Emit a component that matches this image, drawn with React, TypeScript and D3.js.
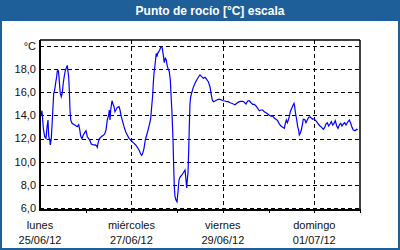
import React from "react";
import * as d3 from "d3";

// hours since Mon 25/06/12 00:00
const hours = [0.3,1.05,1.73,2.47,3.15,3.68,4.2,4.57,5.09,5.41,5.93,6.46,6.83,7.19,7.72,8.24,8.77,9.08,9.61,9.98,10.34,10.66,11.18,11.71,12.23,12.76,13.28,13.81,14.33,14.7,15.07,15.38,15.75,16.12,16.8,18.22,19.58,20.32,20.84,21.37,22.05,22.73,23.47,24.15,24.83,25.57,26.25,26.93,27.98,29.03,29.77,30.08,30.45,31.13,32.18,33.23,33.97,34.65,
35.33,36.07,36.38,36.75,37.12,37.8,38.33,38.85,39.38,40.06,40.58,41.48,42.0,42.68,43.42,44.1,44.99,45.83,46.73,47.62,48.46,49.35,50.24,51.08,51.98,52.87,53.39,53.92,54.6,55.28,56.02,56.7,57.38,58.12,58.64,59.17,59.48,59.85,60.38,60.74,61.06,61.43,61.79,62.32,62.84,63.37,63.89,64.21,64.73,65.26,65.78,66.31,66.68,67.2,67.88,68.41,68.93,
69.3,69.83,70.19,70.51,70.88,71.4,71.93,72.45,72.98,73.5,74.39,75.23,76.13,76.49,77.02,77.33,77.7,78.07,78.38,78.75,79.12,79.8,80.48,81.38,82.27,83.11,84.0,84.89,85.73,86.63,87.52,88.36,89.25,89.78,90.46,90.98,91.88,92.77,93.61,94.5,95.39,96.23,97.13,98.02,98.86,99.75,100.64,101.48,102.38,103.27,
104.63,105.53,106.42,107.26,108.15,109.04,109.88,110.78,111.67,112.51,113.4,114.29,115.13,116.03,116.92,117.76,118.65,119.54,120.38,121.28,122.17,123.01,123.9,124.79,125.63,126.53,127.42,128.26,128.78,129.31,129.83,130.36,130.88,131.41,131.93,132.67,133.35,133.72,134.03,134.77,135.29,135.82,136.13,136.66,137.18,137.71,138.23,
138.6,139.13,139.65,140.33,141.07,141.75,142.43,143.17,143.85,144.38,145.27,146.11,147.0,147.89,148.73,149.47,150.15,150.83,151.57,152.25,152.93,153.67,154.35,155.03,155.77,156.45,157.13,157.87,158.55,159.23,159.97,160.65,161.33,162.38,163.12,163.8,164.48,165.38,166.27,166.79];

const dewPoint = [13.95,14.41,12.89,12.16,12.02,12.97,13.61,12.22,11.88,11.45,11.99,13.61,14.76,15.91,16.2,16.83,17.35,17.84,17.87,17.35,16.48,15.91,15.62,15.97,16.83,17.41,17.87,18.1,18.33,17.78,17.3,16.2,14.47,13.61,13.32,13.17,13.03,13.2,12.8,12.22,11.99,12.31,12.51,12.68,12.16,11.99,11.82,11.53,11.45,11.45,11.36,11.25,11.59,11.99,12.16,12.28,12.4,12.74,
13.61,14.04,14.47,13.61,14.47,15.27,14.99,14.76,14.32,14.53,14.7,14.76,14.47,13.89,13.46,13.03,12.59,12.31,12.02,11.88,11.73,11.59,11.45,11.25,11.01,10.67,10.55,10.73,11.16,11.88,12.31,12.74,13.17,13.75,14.76,15.77,16.78,17.64,18.36,18.94,19.37,19.08,19.37,19.51,19.66,19.89,19.94,19.8,19.22,18.56,18.94,18.79,18.36,18.07,17.78,17.06,15.33,
14.18,11.88,9.57,7.84,6.98,6.69,6.54,7.41,8.42,8.65,8.85,9.05,9.28,8.71,7.73,8.42,9.0,11.01,13.03,15.05,15.62,16.05,16.43,16.78,17.06,17.3,17.5,17.35,17.21,17.3,17.12,16.92,16.48,15.91,15.33,15.19,15.25,15.33,15.39,15.39,15.33,15.27,15.25,15.19,15.19,15.1,15.05,14.99,14.93,15.05,
15.19,15.22,15.22,15.14,14.99,15.25,15.27,15.1,14.96,14.96,14.82,14.62,14.41,14.47,14.47,14.32,14.24,14.12,14.01,13.95,13.95,13.78,13.67,13.55,13.26,13.09,12.97,12.89,13.32,13.61,13.37,13.61,13.89,14.32,14.53,14.82,15.05,14.76,14.32,13.61,13.03,12.68,12.31,12.46,12.74,13.17,13.67,
13.67,13.61,13.37,13.61,13.84,13.89,13.78,13.67,13.72,13.61,13.46,13.26,13.09,12.97,12.8,12.97,13.26,13.37,13.09,13.26,13.46,13.17,13.32,13.55,13.09,12.89,13.17,13.32,13.09,13.26,13.37,13.17,13.37,13.61,13.32,12.97,12.74,12.68,12.8,12.74];

const yTicks = [6, 8, 10, 12, 14, 16, 18];
const yGrid = [6, 8, 10, 12, 14, 16, 18, 20];
const dayTicks = [24, 48, 72, 96, 120, 144, 168];
const labelTicks = [0, 48, 96, 144];
const dayLabels = ["lunes", "miércoles", "viernes", "domingo"];
const dateLabels = ["25/06/12", "27/06/12", "29/06/12", "01/07/12"];
const title = "Punto de rocío [°C] escala";
const unit = "°C";

export default function App() {
  const W = 400, H = 250;
  const left = 40, right = 360, top = 40, bottom = 210;
  const x = d3.scaleLinear().domain([0, 168]).range([left, right]);
  const y = d3.scaleLinear().domain([5.83, 20.52]).range([bottom, top]);
  const pts: [number, number][] = hours.map((h, i) => [h, dewPoint[i]]);
  const line = d3.line<[number, number]>().x(d => x(d[0])).y(d => y(d[1]));
  const fmt = (v: number) => v.toFixed(1).replace(".", ",");
  const font = "'Liberation Sans', Arial, sans-serif";
  const blue = "#1f5f99";
  return (
    <svg width={W} height={H} style={{ position: "absolute", left: 0, top: 0 }} fontFamily={font}>
      <rect x={0} y={0} width={W} height={H} fill={blue} />
      <rect x={2} y={21} width={W - 4} height={H - 23} fill="#fff" />
      <text x={210} y={15} textAnchor="middle" fill="#fff" fontWeight="bold" fontSize={12}>{title}</text>
      {yGrid.map(v => (
        <line key={"g" + v} x1={left} x2={right} y1={Math.round(y(v)) + 0.5} y2={Math.round(y(v)) + 0.5}
          stroke="#000" strokeDasharray="4,3" />
      ))}
      {labelTicks.slice(1).map(t => (
        <line key={"v" + t} x1={Math.round(x(t)) + 0.5} x2={Math.round(x(t)) + 0.5} y1={top} y2={bottom + 2}
          stroke="#000" strokeDasharray="4,3" />
      ))}
      {dayTicks.map(t => (
        <line key={"t" + t} x1={Math.round(x(t)) + 0.5} x2={Math.round(x(t)) + 0.5} y1={bottom} y2={bottom + 3}
          stroke="#000" />
      ))}
      <path d={line(pts) || ""} fill="none" stroke="#0000ff" strokeWidth={1.2} />
      <line x1={left} x2={right} y1={top} y2={top} stroke="#000" strokeWidth={1.5} />
      <line x1={right} x2={right} y1={top} y2={bottom} stroke="#000" strokeWidth={1.5} />
      <line x1={left} x2={left} y1={top} y2={bottom + 1} stroke="#000" strokeWidth={2} />
      <line x1={left} x2={right + 1} y1={bottom} y2={bottom} stroke="#000" strokeWidth={2} />
      {yTicks.map(v => (
        <text key={"l" + v} x={36} y={y(v)} dy="0.35em" textAnchor="end" fontSize={11} fill="#111">{fmt(v)}</text>
      ))}
      <text x={36} y={y(20)} dy="0.35em" textAnchor="end" fontSize={11} fill="#111">{unit}</text>
      {labelTicks.map((t, i) => (
        <g key={"x" + t}>
          <text x={x(t)} y={229} textAnchor="middle" fontSize={11} fill="#111">{dayLabels[i]}</text>
          <text x={x(t)} y={243.5} textAnchor="middle" fontSize={11} fill="#111">{dateLabels[i]}</text>
        </g>
      ))}
    </svg>
  );
}
